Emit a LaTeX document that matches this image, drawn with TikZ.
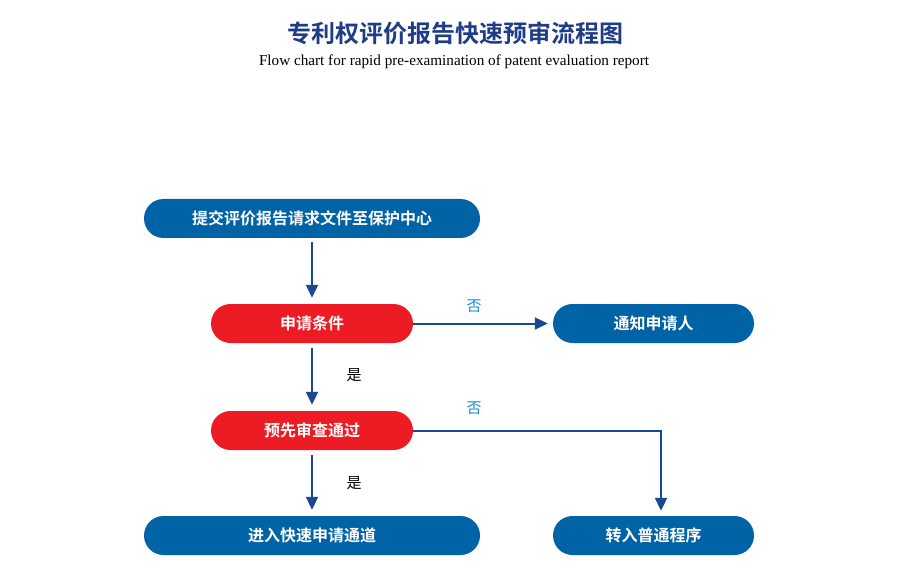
\documentclass[tikz,border=0pt]{standalone}
\usepackage{fontspec}
\setmainfont{Liberation Serif}
\newfontfamily\cjk{Noto Sans CJK SC}
\newfontfamily\cjkb{Noto Sans CJK SC Bold}
\usetikzlibrary{arrows.meta}
\definecolor{boxblue}{RGB}{0,99,165}
\definecolor{boxred}{RGB}{237,28,36}
\definecolor{linkblue}{RGB}{27,73,143}
\definecolor{titleblue}{RGB}{30,60,135}
\definecolor{noblue}{RGB}{20,140,210}
\tikzset{
  bluebox/.style={fill=boxblue, rounded corners=19.5pt, minimum height=39pt, inner sep=0pt, text=white, font=\cjkb\fontsize{16}{18}\selectfont},
  redbox/.style={bluebox, fill=boxred},
  arr/.style={draw=linkblue, line width=2pt, -{Triangle[width=12pt,length=13pt]}},
  nolab/.style={text=noblue, font=\cjk\fontsize{15}{17}\selectfont},
  yeslab/.style={text=black, font=\cjk\fontsize{15}{17}\selectfont},
}
\begin{document}
\begin{tikzpicture}[x=1pt,y=-1pt]
\useasboundingbox (0,0) rectangle (907,577);
\node[text=titleblue, font=\cjkb\fontsize{24}{28}\selectfont] (title) at (455,33) {专利权评价报告快速预审流程图};
\node[font=\fontsize{15.2}{18}\selectfont] (sub) at (454,62) {Flow chart for rapid pre-examination of patent evaluation report};

\node[bluebox, minimum width=336pt] (b1) at (312,218.5) {提交评价报告请求文件至保护中心};
\node[redbox, minimum width=202pt] (c1) at (312,323.5) {申请条件};
\node[bluebox, minimum width=201pt] (n1) at (653.5,323.5) {通知申请人};
\node[redbox, minimum width=202pt] (c2) at (312,430.5) {预先审查通过};
\node[bluebox, minimum width=336pt] (y2) at (312,535.5) {进入快速申请通道};
\node[bluebox, minimum width=201pt] (n2) at (653.5,535.5) {转入普通程序};

\draw[arr, shorten <=4pt, shorten >=6pt] (b1.south) -- (c1.north);
\draw[arr, shorten >=5pt] (c1.east) -- (n1.west);
\draw[arr, shorten <=5pt, shorten >=6pt] (c1.south) -- (c2.north);
\draw[arr, shorten <=5pt, shorten >=6pt] (c2.south) -- (y2.north);
\coordinate (k) at (661,430.5);
\draw[arr, shorten >=5pt] (c2.east) -- (k) -- (k |- n2.north);

\node[nolab] (no1) at (474,306) {否};
\node[nolab] (no2) at (474,408) {否};
\node[yeslab] (yes1) at (354,375) {是};
\node[yeslab] (yes2) at (354,483) {是};
\end{tikzpicture}
\end{document}
